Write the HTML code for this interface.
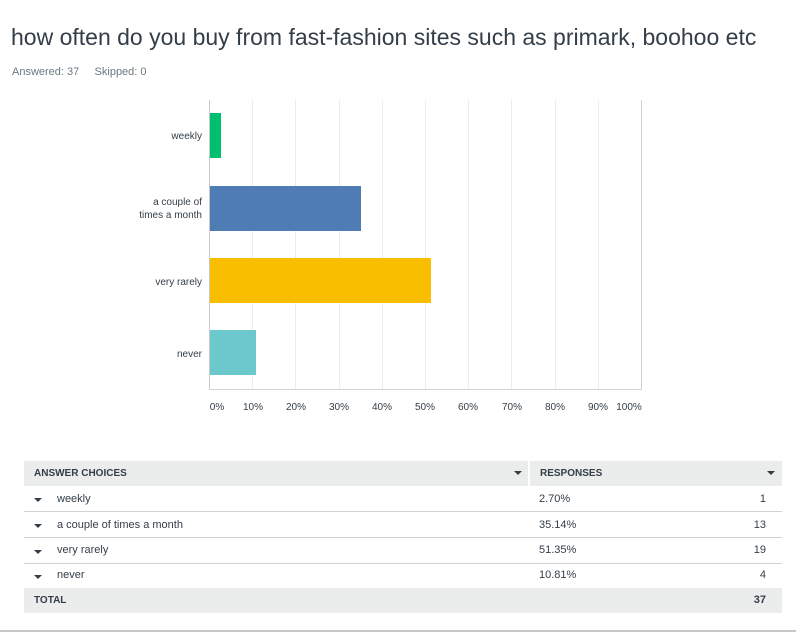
<!DOCTYPE html>
<html><head><meta charset="utf-8"><style>
html,body{margin:0;width:796px;height:632px;overflow:hidden}
body{background:#fff;font-family:"Liberation Sans",sans-serif;position:relative;color:#333e48}
.a{position:absolute;white-space:nowrap}
.t{position:absolute;left:24px;top:461px;width:758px;height:152px;font-size:11px;color:#333e48}
.r{height:25px;border-bottom:1px solid #d0d2d3;position:absolute;left:0;width:758px}
.tri{position:absolute;width:0;height:0;border-left:4px solid transparent;border-right:4px solid transparent;border-top:4px solid #333e48}
</style></head><body>
<div class="a" style="left:11px;top:24px;font-size:23px;color:#333e48">how often do you buy from fast-fashion sites such as primark, boohoo etc</div>
<div class="a" style="left:12px;top:66px;font-size:11px;color:#6b787f">Answered: 37&nbsp;&nbsp;&nbsp;&nbsp;&nbsp;Skipped: 0</div>
<svg class="a" style="left:0;top:0" width="796" height="440">
<g stroke="#ececec" stroke-width="1">
<line x1="252.5" y1="100" x2="252.5" y2="390"/><line x1="295.5" y1="100" x2="295.5" y2="390"/><line x1="339.5" y1="100" x2="339.5" y2="390"/><line x1="382.5" y1="100" x2="382.5" y2="390"/><line x1="425.5" y1="100" x2="425.5" y2="390"/><line x1="468.5" y1="100" x2="468.5" y2="390"/><line x1="511.5" y1="100" x2="511.5" y2="390"/><line x1="555.5" y1="100" x2="555.5" y2="390"/><line x1="598.5" y1="100" x2="598.5" y2="390"/>
</g>
<line x1="641.5" y1="100" x2="641.5" y2="390" stroke="#d0d2d3"/>
<line x1="209.5" y1="100" x2="209.5" y2="390" stroke="#c8c8c8"/>
<line x1="209" y1="389.5" x2="642" y2="389.5" stroke="#d0d2d3"/>
<rect x="210" y="113" width="11" height="45" fill="#00bf6f"/>
<rect x="210" y="186" width="151" height="45" fill="#507cb6"/>
<rect x="210" y="258" width="221" height="45" fill="#f9be00"/>
<rect x="210" y="330" width="46" height="45" fill="#6bc8cd"/>
<g font-size="10" fill="#333e48" text-anchor="end" font-family="Liberation Sans,sans-serif">
<text x="202" y="139">weekly</text>
<text x="202" y="205">a couple of</text><text x="202" y="218">times a month</text>
<text x="202" y="285">very rarely</text>
<text x="202" y="357">never</text>
</g>
<g font-size="10" fill="#333e48" text-anchor="middle" font-family="Liberation Sans,sans-serif">
<text x="217" y="410">0%</text><text x="253" y="410">10%</text><text x="296" y="410">20%</text><text x="339" y="410">30%</text><text x="382" y="410">40%</text><text x="425" y="410">50%</text><text x="468" y="410">60%</text><text x="512" y="410">70%</text><text x="555" y="410">80%</text><text x="598" y="410">90%</text><text x="629" y="410">100%</text>
</g>
</svg>
<div class="t">
<div style="position:absolute;left:0;top:0;width:758px;height:25px;background:#ebecec"></div>
<div style="position:absolute;left:504px;top:0;width:2px;height:25px;background:#fff"></div>
<div class="a" style="left:10px;top:7px;font-weight:bold;font-size:10px">ANSWER CHOICES</div>
<div class="tri" style="left:490px;top:10px"></div>
<div class="a" style="left:516px;top:7px;font-weight:bold;font-size:10px">RESPONSES</div>
<div class="tri" style="left:743px;top:10px"></div>
<div class="r" style="top:25px"><div class="tri" style="left:10px;top:12px"></div><div class="a" style="left:33px;top:7px">weekly</div><div class="a" style="left:515px;top:7px">2.70%</div><div class="a" style="right:16px;top:7px">1</div></div>
<div class="r" style="top:51px"><div class="tri" style="left:10px;top:12px"></div><div class="a" style="left:33px;top:7px">a couple of times a month</div><div class="a" style="left:515px;top:7px">35.14%</div><div class="a" style="right:16px;top:7px">13</div></div>
<div class="r" style="top:77px"><div class="tri" style="left:10px;top:12px"></div><div class="a" style="left:33px;top:6px">very rarely</div><div class="a" style="left:515px;top:6px">51.35%</div><div class="a" style="right:16px;top:6px">19</div></div>
<div class="r" style="top:102px;border:none"><div class="tri" style="left:10px;top:12px"></div><div class="a" style="left:33px;top:6px">never</div><div class="a" style="left:515px;top:6px">10.81%</div><div class="a" style="right:16px;top:6px">4</div></div>
<div style="position:absolute;left:0;top:127px;width:758px;height:25px;background:#ebecec"></div>
<div class="a" style="left:10px;top:134px;font-weight:bold;font-size:10px">TOTAL</div>
<div class="a" style="right:16px;top:133px;font-weight:bold">37</div>
</div>
<div class="a" style="left:0;top:630px;width:796px;height:2px;background:#c8c8c8"></div>
</body></html>
